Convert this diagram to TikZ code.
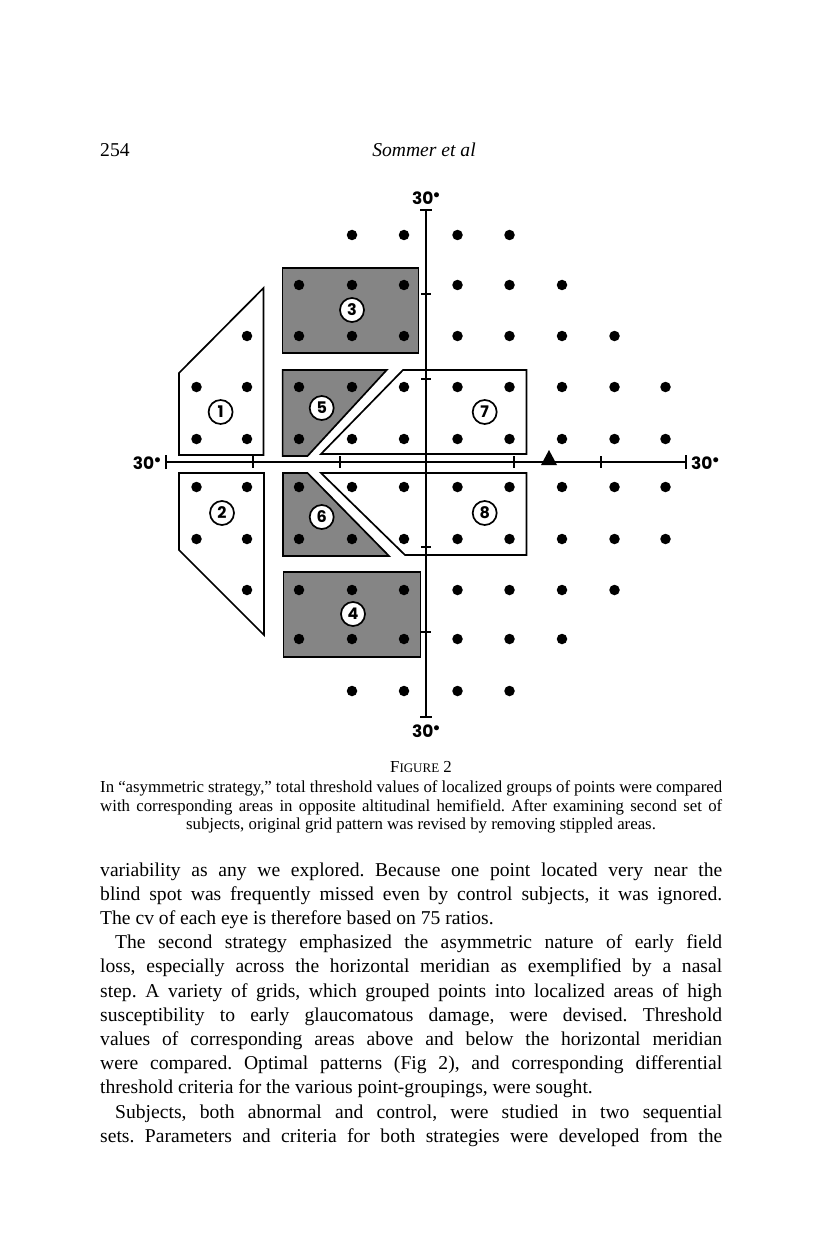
\documentclass[tikz,border=0pt]{standalone}
\usepackage{fontspec}
\setmainfont{Liberation Serif}
\newfontfamily\geofont{Poppins}
\usetikzlibrary{positioning}
\newcommand\fullline[1]{\hbox to 622pt{#1}}
\newcommand\degdot{\raisebox{6pt}{\scalebox{0.75}{$\bullet$}}}
\frenchspacing

\begin{document}
\begin{tikzpicture}[x=1pt, y=-1pt]
    \tikzset{
        area/.style={draw, line width=1.7pt, fill=white, line join=miter},
        stipple/.style={area, fill=black!48},
        fdot/.style={circle, fill=black, inner sep=0pt, minimum size=10.5pt},
        ncirc/.style={circle, draw, line width=1.7pt, fill=white, inner sep=0pt, minimum size=24pt, font=\geofont\bfseries\fontsize{16}{16}\selectfont},
        deg/.style={font=\geofont\bfseries\fontsize{17}{17}\selectfont, inner sep=0pt},
        meridian/.style={line width=2.4pt},
        tickmark/.style={line width=1.6pt},
        bodyline/.style={anchor=base west, inner sep=0pt, font=\fontsize{19.6}{24}\selectfont},
        capline/.style={anchor=base west, inner sep=0pt, font=\fontsize{16.8}{18}\selectfont},
    }
    \fill[white] (0,0) rectangle (816,1246);
    \useasboundingbox (0,0) rectangle (816,1246);

    \node[bodyline] (pageno) at (100,157) {254};
    \node[bodyline, anchor=base, font=\itshape\fontsize{19.6}{24}\selectfont] (runhead) at (424,157) {Sommer et al};

    \draw[area] (179,455) -- (179,373) -- (263.5,288) -- (263.5,455) -- cycle;
    \draw[area] (179,473) -- (264,473) -- (264,635) -- (179,550) -- cycle;
    \draw[stipple] (282.6,268) rectangle (418.5,353);
    \draw[stipple] (283.4,572) rectangle (420.4,657);
    \draw[stipple] (282.6,370) -- (386.7,370) -- (307.5,456) -- (282.6,456) -- cycle;
    \draw[stipple] (283,473) -- (307.5,473) -- (389,556) -- (283,556) -- cycle;
    \draw[area] (321,454) -- (403,370) -- (526.4,370) -- (526.4,454) -- cycle;
    \draw[area] (321,473) -- (526.4,473) -- (526.4,555) -- (405,555) -- cycle;

    \coordinate (north) at (426,210);
    \coordinate (south) at (426,717);
    \coordinate (west) at (166,462);
    \coordinate (east) at (686,462);
    \draw[meridian] (north) -- (south);
    \draw[meridian] (west) -- (east);
    \draw[tickmark] ([xshift=-6pt]north) -- ([xshift=6pt]north);
    \draw[tickmark] ([xshift=-6pt]south) -- ([xshift=6pt]south);
    \draw[tickmark] ([yshift=-7pt]west) -- ([yshift=7pt]west);
    \draw[tickmark] ([yshift=-7pt]east) -- ([yshift=7pt]east);
    \foreach \y in {294,379,547,632}
        \draw[tickmark] (421,\y) -- (431,\y);
    \foreach \x in {253,340,514,601}
        \draw[tickmark] (\x,456) -- (\x,468);

    \node[deg] (ltop) at (426,198) {30\degdot};
    \node[deg] (lbottom) at (426,731) {30\degdot};
    \node[deg, anchor=east] (lleft) at (161,463) {30\degdot};
    \node[deg, anchor=west] (lright) at (691,463) {30\degdot};

    \fill (541,465) -- (549,450) -- (557,465) -- cycle;

    \foreach \y/\cols [count=\i] in {
        235/{352,404,457.5,509.5},
        285/{299,352,404,457.5,509.5,562},
        336/{247,299,352,404,457.5,509.5,562,614.5},
        387/{196.5,247,299,352,404,457.5,509.5,562,614.5,665.5},
        439/{196.5,247,299,352,404,457.5,509.5,562,614.5,665.5},
        487/{196.5,247,299,352,404,457.5,509.5,562,614.5,665.5},
        539/{196.5,247,299,352,404,457.5,509.5,562,614.5,665.5},
        590/{247,299,352,404,457.5,509.5,562,614.5},
        639/{299,352,404,457.5,509.5,562},
        691/{352,404,457.5,509.5}}
        \foreach \x [count=\j] in \cols
            \node[fdot] (p\i-\j) at (\x,\y) {};

    \node[ncirc] (g1) at (220.6,412) {1};
    \node[ncirc] (g2) at (222,513) {2};
    \node[ncirc] (g3) at (352,310) {3};
    \node[ncirc] (g4) at (353,614) {4};
    \node[ncirc] (g5) at (321.7,408) {5};
    \node[ncirc] (g6) at (321.7,517) {6};
    \node[ncirc] (g7) at (484.7,412) {7};
    \node[ncirc] (g8) at (484.7,513) {8};

    \node[capline, anchor=base] (fig) at (421,772) {F{\fontsize{13}{14}\selectfont IGURE} 2};
    \node[capline] (cap1) at (100,792) {\fullline{In “asymmetric strategy,” total threshold values of localized groups of points were compared}};
    \node[capline] (cap2) at (100,811) {\fullline{with corresponding areas in opposite altitudinal hemifield. After examining second set of}};
    \node[capline, anchor=base] (cap3) at (421,829) {subjects, original grid pattern was revised by removing stippled areas.};

    \foreach \t [count=\i] in {
        {variability as any we explored. Because one point located very near the},
        {blind spot was frequently missed even by control subjects, it was ignored.},
        {The cv of each eye is therefore based on 75 ratios.\hfill},
        {\hspace{15pt}The second strategy emphasized the asymmetric nature of early field},
        {loss, especially across the horizontal meridian as exemplified by a nasal},
        {step. A variety of grids, which grouped points into localized areas of high},
        {susceptibility to early glaucomatous damage, were devised. Threshold},
        {values of corresponding areas above and below the horizontal meridian},
        {were compared. Optimal patterns (Fig 2), and corresponding differential},
        {threshold criteria for the various point-groupings, were sought.\hfill},
        {\hspace{15pt}Subjects, both abnormal and control, were studied in two sequential},
        {sets. Parameters and criteria for both strategies were developed from the}}
        \node[bodyline] (b\i) at (100,{876+24.2*(\i-1)}) {\fullline{\t}};
\end{tikzpicture}
\end{document}
